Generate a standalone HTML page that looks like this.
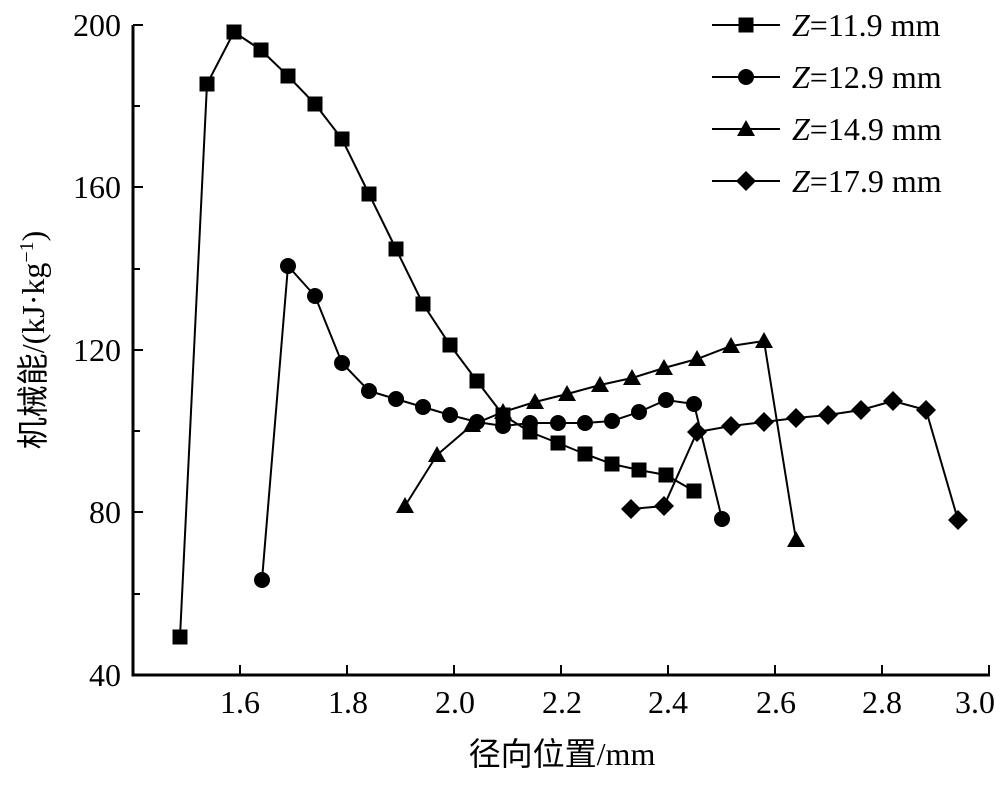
<!DOCTYPE html>
<html><head><meta charset="utf-8"><style>body{margin:0;background:#fff}svg{display:block}</style></head><body>
<svg width="1000" height="787" viewBox="0 0 1000 787" xmlns="http://www.w3.org/2000/svg">
<g font-family="'Liberation Serif','Noto Serif CJK SC',serif" fill="#000">
<g stroke="#000" stroke-width="3" fill="none">
<path d="M133,25 V675 H990"/>
</g>
<g stroke="#000" stroke-width="2">
<path d="M133,25h10M133,106h7M133,187h10M133,269h7M133,350h10M133,431h7M133,512h10M133,594h7"/>
<path d="M240,675v-10M347,675v-10M454,675v-10M561,675v-10M668,675v-10M775,675v-10M882,675v-10M989,675v-10"/>
</g>
<g font-size="32" text-anchor="end">
<text x="121" y="36">200</text><text x="121" y="198">160</text><text x="121" y="361">120</text><text x="121" y="523">80</text><text x="121" y="686">40</text>
</g>
<g font-size="32" text-anchor="middle">
<text x="240" y="713">1.6</text><text x="348" y="713">1.8</text><text x="455" y="713">2.0</text><text x="562" y="713">2.2</text><text x="668" y="713">2.4</text><text x="776" y="713">2.6</text><text x="882" y="713">2.8</text><text x="975" y="713">3.0</text>
</g>
<text x="562" y="765" font-size="32" text-anchor="middle" font-family="'Liberation Serif','Noto Sans CJK SC',sans-serif">径向位置/mm</text>
<text transform="translate(44,340) rotate(-90)" font-size="32" text-anchor="middle" font-family="'Liberation Serif','Noto Sans CJK SC',sans-serif">机械能/(kJ·kg<tspan dy="-11" font-size="20">−1</tspan><tspan dy="11">)</tspan></text>
<g stroke="#000" stroke-width="2" fill="none">
<polyline points="180,637 207,84 234,32 261,50 288,76 315,104 342,139 369,194 396,249 423,304 450,345 477,381 503,415 530,432 558,443 585,454 612,464 639,470 666,475 694,491"/>
<polyline points="262,580 288,266 315,296 342,363 369,391 396,399 423,407 450,415 477,422 503,426 530,423 558,423 585,423 612,421 639,412 666,400 694,404 722,519"/>
<polyline points="405,506 437,455 472,425 503,412 535,402 567,394 600,385 632,378 664,368 697,359 731,346 764,341 796,540"/>
<polyline points="631,509 664,506 697,432 731,426 764,422 796,418 828,415 861,410 893,401 926,410 958,520"/>
<path d="M712,25H780M712,77H780M712,129H780M712,181H780"/>
</g>
<defs>
<rect id="s" x="-7.5" y="-7.5" width="15" height="15"/>
<circle id="c" r="8"/>
<path id="t" d="M0,-9L9,7H-9Z"/>
<path id="d" d="M0,-10L10,0L0,10L-10,0Z"/>
</defs>
<g>
<use href="#s" x="180" y="637"/><use href="#s" x="207" y="84"/><use href="#s" x="234" y="32"/><use href="#s" x="261" y="50"/><use href="#s" x="288" y="76"/><use href="#s" x="315" y="104"/><use href="#s" x="342" y="139"/><use href="#s" x="369" y="194"/><use href="#s" x="396" y="249"/><use href="#s" x="423" y="304"/><use href="#s" x="450" y="345"/><use href="#s" x="477" y="381"/><use href="#s" x="503" y="415"/><use href="#s" x="530" y="432"/><use href="#s" x="558" y="443"/><use href="#s" x="585" y="454"/><use href="#s" x="612" y="464"/><use href="#s" x="639" y="470"/><use href="#s" x="666" y="475"/><use href="#s" x="694" y="491"/>
<use href="#c" x="262" y="580"/><use href="#c" x="288" y="266"/><use href="#c" x="315" y="296"/><use href="#c" x="342" y="363"/><use href="#c" x="369" y="391"/><use href="#c" x="396" y="399"/><use href="#c" x="423" y="407"/><use href="#c" x="450" y="415"/><use href="#c" x="477" y="422"/><use href="#c" x="503" y="426"/><use href="#c" x="530" y="423"/><use href="#c" x="558" y="423"/><use href="#c" x="585" y="423"/><use href="#c" x="612" y="421"/><use href="#c" x="639" y="412"/><use href="#c" x="666" y="400"/><use href="#c" x="694" y="404"/><use href="#c" x="722" y="519"/>
<use href="#t" x="405" y="506"/><use href="#t" x="437" y="455"/><use href="#t" x="472" y="425"/><use href="#t" x="503" y="412"/><use href="#t" x="535" y="402"/><use href="#t" x="567" y="394"/><use href="#t" x="600" y="385"/><use href="#t" x="632" y="378"/><use href="#t" x="664" y="368"/><use href="#t" x="697" y="359"/><use href="#t" x="731" y="346"/><use href="#t" x="764" y="341"/><use href="#t" x="796" y="540"/>
<use href="#d" x="631" y="509"/><use href="#d" x="664" y="506"/><use href="#d" x="697" y="432"/><use href="#d" x="731" y="426"/><use href="#d" x="764" y="422"/><use href="#d" x="796" y="418"/><use href="#d" x="828" y="415"/><use href="#d" x="861" y="410"/><use href="#d" x="893" y="401"/><use href="#d" x="926" y="410"/><use href="#d" x="958" y="520"/>
<use href="#s" x="746" y="25"/><use href="#c" x="746" y="77"/><use href="#t" x="746" y="129"/><use href="#d" x="746" y="181"/>
</g>
<g font-size="32">
<text x="792" y="36"><tspan font-style="italic">Z</tspan>=11.9 mm</text>
<text x="792" y="88"><tspan font-style="italic">Z</tspan>=12.9 mm</text>
<text x="792" y="140"><tspan font-style="italic">Z</tspan>=14.9 mm</text>
<text x="792" y="192"><tspan font-style="italic">Z</tspan>=17.9 mm</text>
</g>
</g>
</svg>
</body></html>
